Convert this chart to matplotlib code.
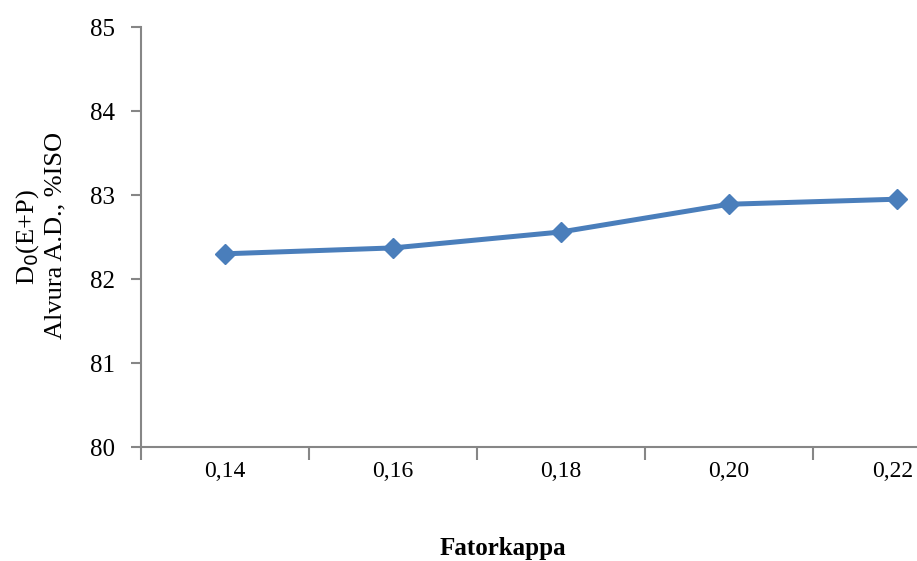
import matplotlib
matplotlib.use("Agg")
import matplotlib.pyplot as plt
from matplotlib.transforms import ScaledTranslation

plt.rcParams['font.family'] = ['Liberation Serif', 'DejaVu Serif']

categories = ['0,14', '0,16', '0,18', '0,20', '0,22']
values = [82.30, 82.37, 82.56, 82.89, 82.95]

fig = plt.figure(figsize=(9.17, 5.61), dpi=100)
# axes extends beyond right edge of figure, like the original
ax = fig.add_axes([141/917, (561-447)/561, (981-141)/917, (447-27)/561])

x = list(range(len(categories)))
ax.plot(x, values, color='#4A7EBB', linewidth=3.6, marker='D', markersize=10,
        markeredgecolor='#4A7EBB', clip_on=False)

ax.set_xlim(-0.5, len(categories) - 0.5)
ax.set_ylim(80, 85)
ax.set_yticks([80, 81, 82, 83, 84, 85])

# boundaries as major ticks, labels at category centres
ax.set_xticks([i - 0.5 for i in range(len(categories) + 1)])
ax.set_xticklabels([])
ax.set_xticks(x, minor=True)
ax.set_xticklabels(categories, minor=True)
ax.tick_params(axis='x', which='major', length=9, width=1.5, color='#868686', direction='out')
ax.tick_params(axis='x', which='minor', length=0, pad=10, labelsize=17)
ax.tick_params(axis='y', length=7, width=1.5, color='#868686', labelsize=18, pad=12)
# keep last label inside the figure (reference has it touching the edge)
last = ax.get_xticklabels(minor=True)[-1]
last.set_horizontalalignment('right')
last.set_transform(last.get_transform() + ScaledTranslation(0.16, 0, fig.dpi_scale_trans))

for s in ['top', 'right']:
    ax.spines[s].set_visible(False)
for s in ['left', 'bottom']:
    ax.spines[s].set_color('#868686')
    ax.spines[s].set_linewidth(1.5)

fig.text(28/917, 1 - 237/561, 'D$_0$(E+P)', rotation=90, ha='center', va='center', fontsize=19)
fig.text(55/917, 1 - 235/561, 'Alvura A.D., %ISO', rotation=90, ha='center', va='center', fontsize=19)
fig.text(503/917, 1 - 549/561, 'Fatorkappa', ha='center', va='center', fontsize=18, fontweight='bold')

fig.savefig('out.png', dpi=100)
